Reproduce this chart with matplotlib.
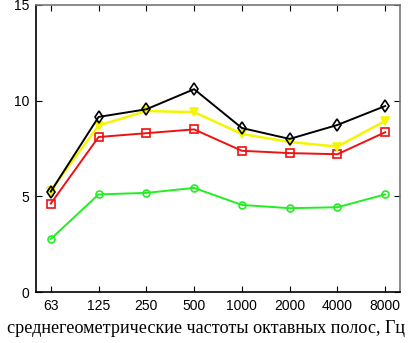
import numpy as np
import matplotlib.pyplot as plt

# octave band centre frequencies, Hz
freqs = ["63", "125", "250", "500", "1000", "2000", "4000", "8000"]

# values
black_vals = [5.25, 9.15, 9.55, 10.6, 8.57, 8.0, 8.73, 9.72]
yellow_vals = [5.3, 8.7, 9.46, 9.4, 8.26, 7.84, 7.6, 8.94]
red_vals = [4.62, 8.1, 8.3, 8.5, 7.38, 7.26, 7.2, 8.35]
green_vals = [2.77, 5.1, 5.18, 5.44, 4.55, 4.38, 4.43, 5.1]

x = np.arange(1, len(freqs) + 1)

fig = plt.figure(figsize=(4.11, 3.43), dpi=100)
ax = fig.add_axes([36 / 411, 1 - 292 / 343, 364 / 411, 287 / 343])

ax.plot(x, green_vals, color="#22ee22", marker="o", mfc="none", ms=5, lw=1.4, mew=1.2)
ax.plot(x, red_vals, color="#ee1111", marker="s", mfc="none", ms=6, lw=1.4, mew=1.2)
ax.plot(x, yellow_vals, color="#f5f500", marker="v", mfc="#f5f500", ms=6, lw=1.8, mew=1.2)
ax.plot(x, black_vals, color="black", marker="d", mfc="none", ms=6.5, lw=1.4, mew=1.2)

ax.set_xlim(0.69, 8.31)
ax.set_ylim(0, 15)
ax.set_xticks(x)
ax.set_xticklabels(freqs)
ax.set_yticks([0, 5, 10, 15])

ax.tick_params(direction="in", length=4, width=0.8, labelsize=10,
               top=True, right=True, pad=5)
for lbl in ax.get_xticklabels() + ax.get_yticklabels():
    lbl.set_family("Liberation Sans")

ax.spines["left"].set_color("black")
ax.spines["bottom"].set_color("black")
ax.spines["top"].set_color("#777777")
ax.spines["right"].set_color("#777777")
for s in ax.spines.values():
    s.set_linewidth(1.2)

# long label, nearly as wide as the whole figure
ax.set_xlabel("среднегеометрические частоты октавных полос, Гц",
              family="Liberation Serif", fontsize=13.1)
ax.xaxis.set_label_coords(0.466, -0.098)

fig.savefig("out.png", dpi=100)
